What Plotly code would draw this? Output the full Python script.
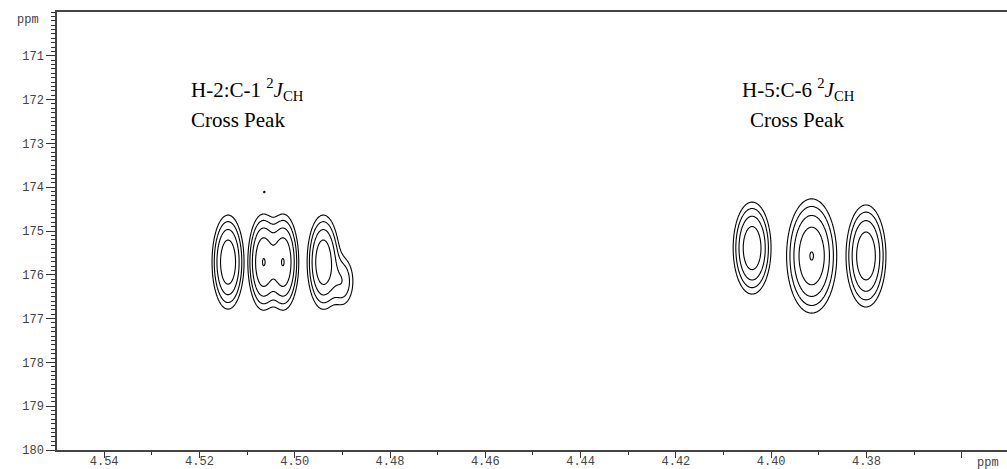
import numpy as np
import plotly.graph_objects as go

# ---- axis ticks ----
y_ticks = [171, 172, 173, 174, 175, 176, 177, 178, 179, 180]
y_ticktext = [str(v) for v in y_ticks]
x_ticks = [4.54, 4.52, 4.50, 4.48, 4.46, 4.44, 4.42, 4.40, 4.38, 4.36]
x_ticktext = ["4.54", "4.52", "4.50", "4.48", "4.46", "4.44", "4.42", "4.40", "4.38", ""]

# ---- cross peak components (positions / widths) ----
# H-2:C-1 group: column id, 1H shift, 13C shift, intensity, widths, shape exponents
g1_col = [0, 1, 1, 2, 2, 3]
g1_x = [4.5140, 4.5066, 4.5024, 4.4940, 4.4900, 4.5064]
g1_y = [175.71, 175.71, 175.71, 175.71, 176.15, 174.11]
g1_amp = [1.15, 1.25, 1.25, 1.15, 0.35, 0.13]
g1_sx = [0.00158, 0.00150, 0.00150, 0.00160, 0.00150, 0.00040]
g1_sy = [0.505, 0.505, 0.505, 0.505, 0.350, 0.040]
g1_px = [2.0, 2.0, 2.0, 2.0, 2.0, 2.0]
g1_py = [2.0, 2.0, 2.0, 2.0, 2.0, 2.0]

# H-5:C-6 group
g2_col = [0, 1, 2]
g2_x = [4.4040, 4.3915, 4.3801]
g2_y = [175.39, 175.57, 175.57]
g2_amp = [1.15, 1.275, 1.15]
g2_sx = [0.00187, 0.00242, 0.00197]
g2_sy = [0.494, 0.600, 0.548]
g2_px = [2.0, 2.0, 2.0]
g2_py = [2.0, 2.0, 2.0]

# contour levels (geometric)
level_start, level_ratio, level_end = 0.12, 1.8, 1.3

labels = ["H-2:C-1 <sup>2</sup><i>J</i><sub>CH</sub>", "Cross Peak",
          "H-5:C-6 <sup>2</sup><i>J</i><sub>CH</sub>", "Cross Peak"]


def group_surface(xs, ys, col, px, py, amp, sx, sy, ex, ey):
    X, Y = np.meshgrid(xs, ys)
    cols = {}
    for c, x0, y0, a, wx, wy, qx, qy in zip(col, px, py, amp, sx, sy, ex, ey):
        z = a * np.exp(-0.5 * np.abs((X - x0) / wx) ** qx - 0.5 * np.abs((Y - y0) / wy) ** qy)
        cols[c] = cols.get(c, 0) + z
    Z = np.max(np.stack(list(cols.values())), axis=0)
    return np.round(np.log(Z + 1e-9), 3)


fig = go.Figure()

lvl = dict(start=np.log(level_start), end=np.log(level_end), size=np.log(level_ratio),
           coloring="lines")
blk = [[0, "black"], [1, "black"]]

xs1 = np.round(np.arange(4.482, 4.525, 0.00012), 5)
ys1 = np.round(np.arange(173.6, 177.9, 0.012), 3)
fig.add_trace(go.Contour(x=xs1, y=ys1,
                         z=group_surface(xs1, ys1, g1_col, g1_x, g1_y, g1_amp, g1_sx, g1_sy, g1_px, g1_py),
                         contours=lvl, colorscale=blk, showscale=False,
                         line=dict(width=1.1, smoothing=1.0), hoverinfo="skip"))

xs2 = np.round(np.arange(4.366, 4.420, 0.00012), 5)
ys2 = np.round(np.arange(173.4, 177.9, 0.012), 3)
fig.add_trace(go.Contour(x=xs2, y=ys2,
                         z=group_surface(xs2, ys2, g2_col, g2_x, g2_y, g2_amp, g2_sx, g2_sy, g2_px, g2_py),
                         contours=lvl, colorscale=blk, showscale=False,
                         line=dict(width=1.1, smoothing=1.0), hoverinfo="skip"))

tickfont = dict(family="Liberation Mono", size=12, color="#444")
serif = dict(family="Liberation Serif", size=21, color="black")

fig.update_layout(
    width=1007, height=469,
    margin=dict(l=57, r=0, t=12, b=19),
    paper_bgcolor="white", plot_bgcolor="white",
    showlegend=False,
    xaxis=dict(range=[4.5499, 4.3505], tickvals=x_ticks, ticktext=x_ticktext,
               ticks="outside", ticklen=6, tickwidth=1.2, tickcolor="#333",
               showline=True, linecolor="#444", linewidth=1.5, mirror=True,
               showgrid=False, zeroline=False, tickfont=tickfont, automargin=False,
               ticklabelstandoff=-7,
               minor=dict(dtick=0.01, ticks="outside", ticklen=3, tickcolor="#333", showgrid=False)),
    yaxis=dict(range=[180, 170.0], tickvals=y_ticks, ticktext=y_ticktext,
               ticks="outside", ticklen=9, tickwidth=1.2, tickcolor="#333",
               showline=True, linecolor="#444", linewidth=1.5, mirror=False,
               showgrid=False, zeroline=False, tickfont=tickfont, automargin=False,
               minor=dict(dtick=0.1, ticks="outside", ticklen=4, tickcolor="#333", showgrid=False)),
    annotations=[
        dict(text=labels[0], x=4.5222, y=171.76, xref="x", yref="y", xanchor="left",
             yanchor="middle", showarrow=False, font=serif),
        dict(text=labels[1], x=4.5222, y=172.47, xref="x", yref="y", xanchor="left",
             yanchor="middle", showarrow=False, font=serif),
        dict(text=labels[2], x=4.4066, y=171.76, xref="x", yref="y", xanchor="left",
             yanchor="middle", showarrow=False, font=serif),
        dict(text=labels[3], x=4.4048, y=172.47, xref="x", yref="y", xanchor="left",
             yanchor="middle", showarrow=False, font=serif),
        dict(text="ppm", x=-0.031, y=0.982, xref="paper", yref="paper", xanchor="center",
             yanchor="middle", showarrow=False, font=tickfont),
        dict(text="ppm", x=(975 - 57) / 950, y=-0.03, xref="paper", yref="paper",
             xanchor="left", yanchor="middle", showarrow=False, font=tickfont),
    ],
)

fig.write_html("out.html", config={"displayModeBar": False},
               post_script="document.body.style.margin='0';")
